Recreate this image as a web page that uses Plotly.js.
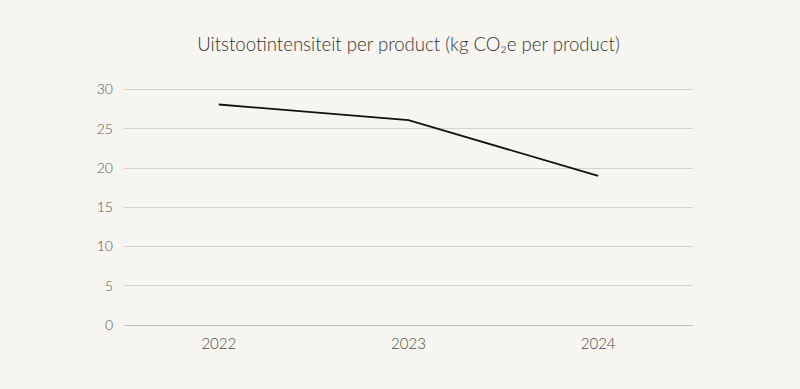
<!DOCTYPE html>
<html><head><meta charset="utf-8">
<script src="https://cdn.plot.ly/plotly-3.0.1.min.js"></script>
<style>html,body{margin:0;padding:0;background:#f7f5ef;}#c{width:800px;height:389px;}</style>
</head><body><div id="c"></div>
<script>
const years = ['2022', '2023', '2024'];
const intensity = [28.1, 26.1, 19.0];
const yTicks = [0, 5, 10, 15, 20, 25, 30];

Plotly.newPlot('c', [{
  x: years, y: intensity, type: 'scatter', mode: 'lines',
  line: {color: '#111111', width: 1.8}, hoverinfo: 'skip'
}], {
  width: 800, height: 389,
  paper_bgcolor: '#f7f5ef', plot_bgcolor: '#f7f5ef',
  margin: {l: 124, r: 107, t: 88, b: 64},
  font: {family: 'Lato, sans-serif', color: '#555555', size: 14, weight: 300},
  title: {text: 'Uitstootintensiteit per product (kg CO₂e per product)', font: {size: 18.6, color: '#333333', family: 'Lato, sans-serif', weight: 300}, x: 0.5, xref: 'paper', y: 47, yref: 'container', yanchor: 'middle'},
  xaxis: {type: 'category', range: [-0.5, 2.5], showgrid: false, zeroline: false, showline: false, ticks: '', tickfont: {size: 15, color: '#4a4a4a', weight: 300}, ticklabelstandoff: 8},
  yaxis: {range: [0, 30.2], tickvals: yTicks, showgrid: true, gridcolor: '#d6d3cc', gridwidth: 1, zeroline: true, zerolinecolor: '#c4c1ba', zerolinewidth: 1, showline: false, ticks: '', tickfont: {size: 14, color: '#555555', weight: 300}, ticklabelstandoff: 10},
  showlegend: false
}, {displayModeBar: false, staticPlot: true});
</script></body></html>
